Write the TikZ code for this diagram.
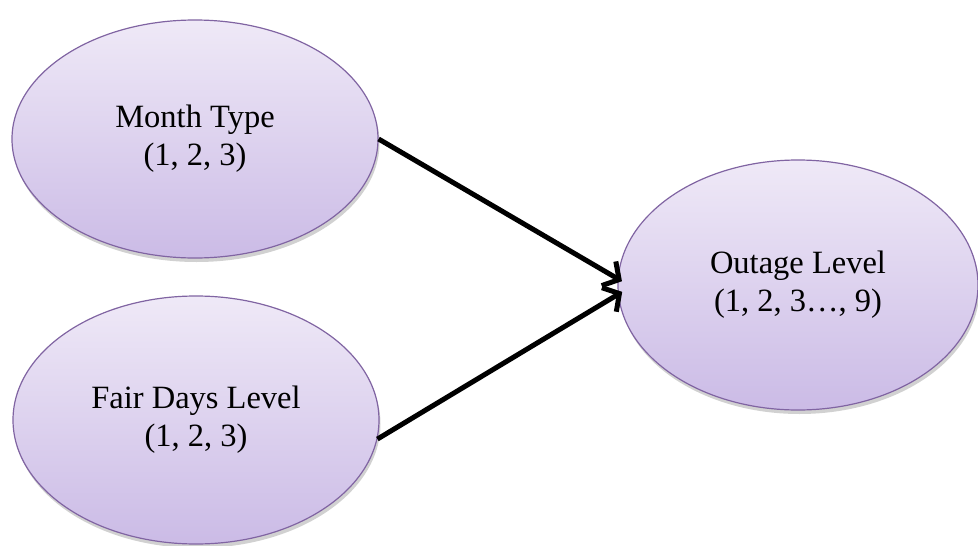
\documentclass[tikz,border=0pt]{standalone}
\usepackage{fontspec}
\setmainfont{Liberation Serif}
\usetikzlibrary{shapes.geometric,arrows.meta,shadows}
\definecolor{elltop}{RGB}{239,233,247}
\definecolor{ellbot}{RGB}{203,187,230}
\definecolor{ellborder}{RGB}{128,100,162}
\tikzset{
  varnode/.style={ellipse, draw=ellborder, line width=1.2pt,
    top color=elltop, bottom color=ellbot, inner sep=0pt,
    align=center, font=\fontsize{32.5}{38}\selectfont,
    drop shadow={shadow xshift=1.5pt, shadow yshift=-4pt, opacity=0.18, fill=black}},
  link/.style={line width=5pt, -{Straight Barb[length=12pt,width=28pt,line width=5pt]}, shorten >=-5pt}
}
\begin{document}
\begin{tikzpicture}[x=1pt,y=-1pt]
\useasboundingbox (0,0) rectangle (978,546);
\node[varnode, minimum width=366pt, minimum height=238pt] (m) at (195,139) {Month Type\\(1, 2, 3)};
\node[varnode, minimum width=366pt, minimum height=248pt] (f) at (196,420) {Fair Days Level\\(1, 2, 3)};
\node[varnode, minimum width=360pt, minimum height=250pt] (o) at (798,285) {Outage Level\\(1, 2, 3\ldots, 9)};
\draw[link] (m.east) -- (o.178.5);
\draw[link] (f.-6) -- (o.183.5);
\end{tikzpicture}
\end{document}
